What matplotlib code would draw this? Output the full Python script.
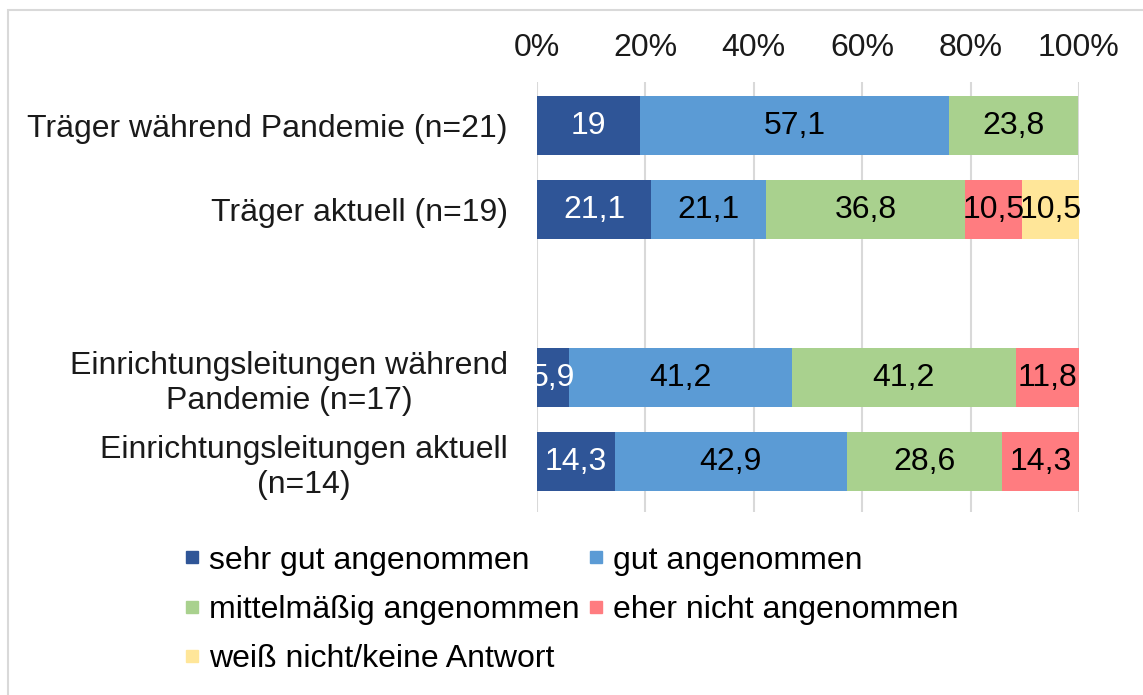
import matplotlib
matplotlib.use('Agg')
import matplotlib.pyplot as plt
from matplotlib.lines import Line2D
from matplotlib.patches import Rectangle
from matplotlib.ticker import FuncFormatter

plt.rcParams['font.family'] = ['Liberation Sans', 'DejaVu Sans']

# data
groups = ['Träger während Pandemie (n=21)',
          'Träger aktuell (n=19)',
          'Einrichtungsleitungen während\nPandemie (n=17)',
          'Einrichtungsleitungen aktuell\n(n=14)']
slots = [0, 1, 3, 4]  # leave an empty row between Träger and Einrichtungen
categories = ['sehr gut angenommen', 'gut angenommen', 'mittelmäßig angenommen',
              'eher nicht angenommen', 'weiß nicht/keine Antwort']
sehr_gut = [19.0, 21.1, 5.9, 14.3]
gut = [57.1, 21.1, 41.2, 42.9]
mittel = [23.8, 36.8, 41.2, 28.6]
eher_nicht = [0.0, 10.5, 11.8, 14.3]
weiss_nicht = [0.0, 10.5, 0.0, 0.0]
series = [sehr_gut, gut, mittel, eher_nicht, weiss_nicht]
colors = ['#2F5597', '#5B9BD5', '#A9D18E', '#FF7C80', '#FFE699']
label_colors = ['white', 'black', 'black', 'black', 'black']

FS = 23

fig = plt.figure(figsize=(11.43, 6.95), dpi=100)
ax = fig.add_axes([537 / 1143, 1 - 512 / 695, (1079 - 537) / 1143, (512 - 82) / 695])

left = [0.0] * len(groups)
for vals, col, lcol in zip(series, colors, label_colors):
    bars = ax.barh(slots, vals, left=left, height=0.71, color=col, zorder=2)
    for b, v, l in zip(bars, vals, left):
        if v > 0:
            ax.text(l + v / 2, b.get_y() + b.get_height() / 2,
                    f'{v:g}'.replace('.', ','), ha='center', va='center',
                    color=lcol, fontsize=FS, zorder=3)
    left = [a + b for a, b in zip(left, vals)]

ax.set_xlim(0, 100)
ax.set_ylim(4.6, -0.52)
ax.set_xticks(range(0, 101, 20))
ax.xaxis.set_major_formatter(FuncFormatter(lambda v, p: f'{int(v)}%'))
ax.xaxis.tick_top()
ax.tick_params(axis='x', length=0, pad=14, labelsize=FS, colors='#1a1a1a')
ax.set_yticks(slots)
ax.set_yticklabels(groups, multialignment='center')
ax.tick_params(axis='y', length=0, pad=21, labelsize=FS, colors='#1a1a1a')
ax.grid(axis='x', color='#D9D9D9', linewidth=1.5, zorder=0)
for s in ax.spines.values():
    s.set_visible(False)

handles = [Line2D([], [], marker='s', linestyle='', markersize=9,
                  markerfacecolor=c, markeredgecolor=c) for c in colors]
order = [0, 2, 4, 1, 3]
fig.legend([handles[i] for i in order], [categories[i] for i in order],
           ncol=2, loc='center', bbox_to_anchor=(0.5, 1 - 610 / 695),
           frameon=False, fontsize=FS, handlelength=0.45, handletextpad=0.3,
           columnspacing=0.3, labelspacing=0.61)

fig.add_artist(Rectangle((8 / 1143, -0.05), 1.1, 1 - 10 / 695 + 0.05,
                         transform=fig.transFigure, fill=False,
                         edgecolor='#D9D9D9', linewidth=1.5))

fig.savefig('out.png', dpi=100)
